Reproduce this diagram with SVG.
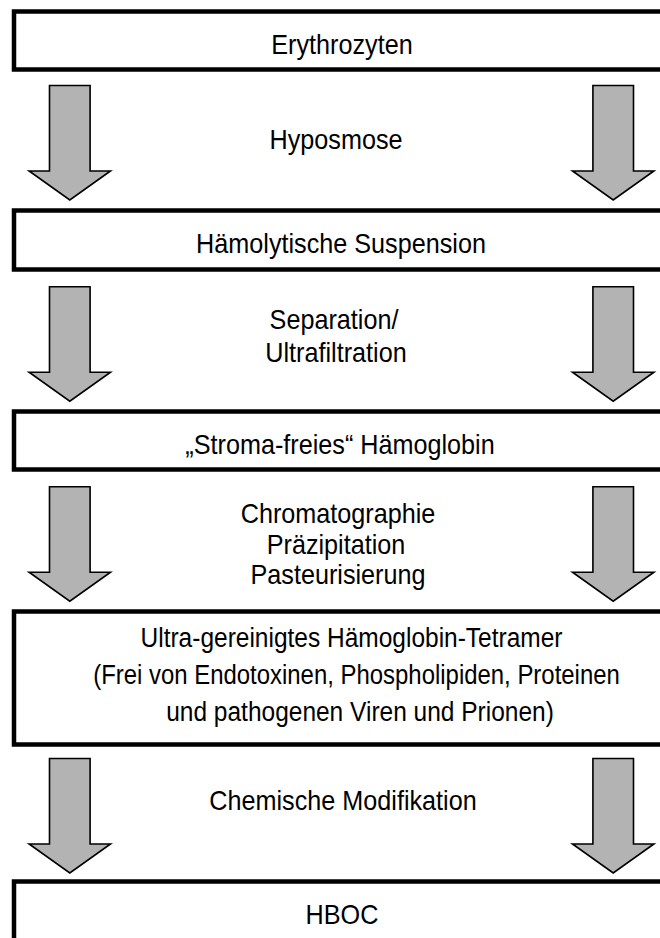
<svg xmlns="http://www.w3.org/2000/svg" width="660" height="938" viewBox="0 0 660 938">
<style>
.box{fill:#fff;stroke:#000;stroke-width:4.5}
.arr{fill:#b3b3b3;stroke:#000;stroke-width:1.6;stroke-linejoin:miter}
text{font-family:"Liberation Sans",Arial,sans-serif;font-size:28px;fill:#000;text-anchor:middle}
</style>
<defs>
<path id="arrow" class="arr" d="M-20.3,0 H20.3 V85.5 H40.7 L0,114.5 L-40.7,85.5 H-20.3 Z"/>
</defs>
<rect width="660" height="938" fill="#fff"/>
<g id="connectors">
<use href="#arrow" x="69.8" y="85.5"/>
<use href="#arrow" x="613.2" y="85.5"/>
<text transform="translate(336,149) scale(0.9,1)">Hyposmose</text>
<use href="#arrow" x="69.8" y="286.7"/>
<use href="#arrow" x="613.2" y="286.7"/>
<text transform="translate(334,329) scale(0.9,1)">Separation/</text>
<text transform="translate(336,362) scale(0.9,1)">Ultrafiltration</text>
<use href="#arrow" x="69.8" y="486.7"/>
<use href="#arrow" x="613.2" y="486.7"/>
<text transform="translate(338,523) scale(0.9,1)">Chromatographie</text>
<text transform="translate(336,554) scale(0.9,1)">Präzipitation</text>
<text transform="translate(338,584) scale(0.9,1)">Pasteurisierung</text>
<use href="#arrow" x="69.8" y="758.5"/>
<use href="#arrow" x="613.2" y="758.5"/>
<text transform="translate(343,810) scale(0.9,1)">Chemische Modifikation</text>
</g>
<g id="erythrozyten">
<rect class="box" x="14" y="11.5" width="680" height="58"/>
<text transform="translate(342,54) scale(0.9,1)">Erythrozyten</text>
</g>
<g id="haemolytische-suspension">
<rect class="box" x="14" y="210.5" width="680" height="59"/>
<text transform="translate(341,253) scale(0.9,1)">Hämolytische Suspension</text>
</g>
<g id="stroma-freies-haemoglobin">
<rect class="box" x="14" y="411.5" width="680" height="58"/>
<text transform="translate(340,454) scale(0.9,1)">„Stroma-freies“ Hämoglobin</text>
</g>
<g id="tetramer">
<rect class="box" x="14" y="611.5" width="680" height="133"/>
<text transform="translate(351.5,647) scale(0.875,1)">Ultra-gereinigtes Hämoglobin-Tetramer</text>
<text transform="translate(356.5,684) scale(0.855,1)">(Frei von Endotoxinen, Phospholipiden, Proteinen</text>
<text transform="translate(360,721) scale(0.875,1)">und pathogenen Viren und Prionen)</text>
</g>
<g id="hboc">
<rect class="box" x="14" y="881.5" width="680" height="90"/>
<text transform="translate(342,924) scale(0.9,1)">HBOC</text>
</g>
</svg>
